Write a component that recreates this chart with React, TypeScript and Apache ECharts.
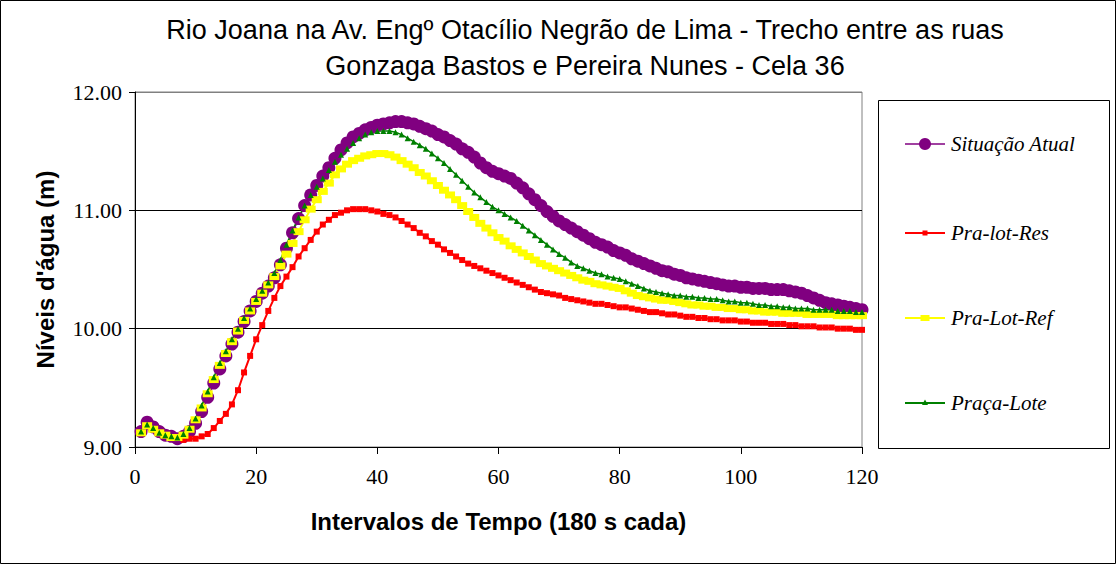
import React, { useEffect, useRef } from "react";
import * as echarts from "echarts";

// Water levels (m) for time steps 1..120 (180 s each)
const situacaoAtual = [
  9.13, 9.21, 9.17, 9.13, 9.10, 9.09, 9.07, 9.09, 9.13, 9.20,
  9.30, 9.42, 9.54, 9.66, 9.77, 9.87, 9.97, 10.06, 10.15, 10.23,
  10.30, 10.36, 10.43, 10.54, 10.68, 10.81, 10.93, 11.04, 11.13, 11.21,
  11.29, 11.36, 11.44, 11.51, 11.57, 11.62, 11.65, 11.68, 11.70, 11.72,
  11.73, 11.74, 11.75, 11.75, 11.74, 11.73, 11.71, 11.69, 11.67, 11.64,
  11.62, 11.59, 11.56, 11.52, 11.49, 11.45, 11.40, 11.36, 11.33, 11.31,
  11.29, 11.27, 11.23, 11.19, 11.14, 11.09, 11.04, 10.99, 10.95, 10.91,
  10.88, 10.85, 10.82, 10.79, 10.76, 10.73, 10.71, 10.69, 10.66, 10.64,
  10.62, 10.59, 10.57, 10.55, 10.53, 10.51, 10.49, 10.48, 10.46, 10.45,
  10.43, 10.42, 10.41, 10.40, 10.39, 10.38, 10.37, 10.36, 10.36, 10.35,
  10.35, 10.34, 10.34, 10.34, 10.33, 10.33, 10.33, 10.32, 10.31, 10.30,
  10.28, 10.26, 10.24, 10.22, 10.21, 10.20, 10.19, 10.18, 10.17, 10.16,
];

const praLotRes = [
  9.12, 9.18, 9.15, 9.12, 9.10, 9.08, 9.08, 9.06, 9.07, 9.07,
  9.09, 9.11, 9.16, 9.22, 9.28, 9.36, 9.48, 9.63, 9.77, 9.91,
  10.03, 10.15, 10.26, 10.36, 10.44, 10.52, 10.61, 10.68, 10.75, 10.82,
  10.88, 10.92, 10.96, 10.98, 11.00, 11.01, 11.01, 11.01, 11.00, 10.99,
  10.97, 10.96, 10.94, 10.91, 10.88, 10.85, 10.81, 10.78, 10.74, 10.71,
  10.67, 10.64, 10.61, 10.58, 10.55, 10.53, 10.51, 10.49, 10.47, 10.45,
  10.43, 10.41, 10.39, 10.37, 10.35, 10.33, 10.31, 10.30, 10.29, 10.28,
  10.26, 10.25, 10.24, 10.23, 10.22, 10.21, 10.21, 10.20, 10.19, 10.18,
  10.18, 10.17, 10.16, 10.15, 10.14, 10.14, 10.13, 10.12, 10.12, 10.11,
  10.10, 10.10, 10.09, 10.09, 10.08, 10.08, 10.07, 10.07, 10.07, 10.06,
  10.06, 10.05, 10.05, 10.05, 10.04, 10.04, 10.04, 10.03, 10.03, 10.02,
  10.02, 10.02, 10.01, 10.01, 10.01, 10.00, 10.00, 10.00, 9.99, 9.99,
];

const praLotRef = [
  9.12, 9.18, 9.15, 9.12, 9.10, 9.08, 9.08, 9.10, 9.15, 9.23,
  9.33, 9.45, 9.57, 9.69, 9.79, 9.89, 9.98, 10.07, 10.15, 10.23,
  10.30, 10.37, 10.44, 10.53, 10.63, 10.72, 10.82, 10.92, 11.01, 11.09,
  11.16, 11.23, 11.30, 11.35, 11.39, 11.42, 11.44, 11.46, 11.47, 11.48,
  11.48, 11.47, 11.45, 11.42, 11.39, 11.36, 11.32, 11.29, 11.25, 11.21,
  11.17, 11.13, 11.09, 11.04, 10.99, 10.94, 10.89, 10.85, 10.81, 10.77,
  10.74, 10.70, 10.67, 10.64, 10.61, 10.58, 10.55, 10.53, 10.51, 10.49,
  10.47, 10.45, 10.43, 10.41, 10.40, 10.38, 10.37, 10.36, 10.35, 10.34,
  10.32, 10.30, 10.28, 10.27, 10.26, 10.25, 10.24, 10.24, 10.23, 10.22,
  10.21, 10.20, 10.20, 10.19, 10.19, 10.18, 10.18, 10.17, 10.17, 10.16,
  10.16, 10.15, 10.15, 10.14, 10.14, 10.14, 10.13, 10.13, 10.13, 10.13,
  10.12, 10.12, 10.12, 10.12, 10.12, 10.11, 10.11, 10.11, 10.11, 10.11,
];

const pracaLote = [
  9.13, 9.19, 9.16, 9.12, 9.10, 9.09, 9.08, 9.11, 9.16, 9.24,
  9.35, 9.47, 9.59, 9.71, 9.81, 9.91, 10.00, 10.09, 10.17, 10.25,
  10.32, 10.39, 10.47, 10.58, 10.71, 10.83, 10.94, 11.04, 11.13, 11.20,
  11.27, 11.34, 11.41, 11.47, 11.52, 11.57, 11.61, 11.64, 11.66, 11.67,
  11.67, 11.67, 11.66, 11.64, 11.61, 11.58, 11.55, 11.52, 11.48, 11.44,
  11.40, 11.35, 11.30, 11.25, 11.20, 11.15, 11.11, 11.07, 11.03, 11.00,
  10.97, 10.94, 10.91, 10.87, 10.83, 10.79, 10.75, 10.71, 10.67, 10.63,
  10.60, 10.56, 10.53, 10.51, 10.49, 10.47, 10.46, 10.44, 10.43, 10.42,
  10.40, 10.38, 10.36, 10.34, 10.32, 10.31, 10.30, 10.29, 10.28, 10.28,
  10.27, 10.27, 10.26, 10.26, 10.25, 10.25, 10.24, 10.23, 10.23, 10.22,
  10.22, 10.21, 10.20, 10.20, 10.19, 10.19, 10.18, 10.18, 10.17, 10.17,
  10.17, 10.16, 10.16, 10.16, 10.16, 10.15, 10.15, 10.15, 10.14, 10.14,
];

const seriesNames = ["Situação Atual", "Pra-lot-Res", "Pra-Lot-Ref", "Praça-Lote"];
const seriesColors = ["#800080", "#ff0000", "#ffff00", "#008000"];
const titleLines = [
  "Rio Joana na Av. Engº Otacílio Negrão de Lima - Trecho entre as ruas",
  "Gonzaga Bastos e Pereira Nunes - Cela 36",
];
const xAxisTitle = "Intervalos de Tempo (180 s cada)";
const yAxisTitle = "Níveis d'água (m)";

const toPairs = (values: number[]) => values.map((v, i) => [i + 1, v]);

const SERIF = "Liberation Serif";
const SANS = "Liberation Sans";

// Legend drawn as a boxed panel on the right: a short line with the
// series marker in the middle, followed by the italic series name.
function legendGraphics() {
  const boxX = 878.5;
  const boxY = 100.5;
  const rowY = [144, 233, 318, 403];
  const lineX0 = 905;
  const lineX1 = 945;
  const cx = (lineX0 + lineX1) / 2;
  const items: any[] = [
    {
      type: "rect",
      shape: { x: boxX, y: boxY, width: 231, height: 348 },
      style: { fill: "#fff", stroke: "#000", lineWidth: 1 },
      silent: true,
    },
  ];
  seriesNames.forEach((name, k) => {
    const y = rowY[k];
    const color = seriesColors[k];
    items.push({
      type: "line",
      shape: { x1: lineX0, y1: y, x2: lineX1, y2: y },
      style: { stroke: color, lineWidth: k === 0 ? 1.5 : 2 },
      silent: true,
    });
    if (k === 0) {
      items.push({ type: "circle", shape: { cx, cy: y, r: 6 }, style: { fill: color }, silent: true });
    } else if (k === 1) {
      items.push({ type: "rect", shape: { x: cx - 2.5, y: y - 2.5, width: 5, height: 5 }, style: { fill: color }, silent: true });
    } else if (k === 2) {
      items.push({ type: "rect", shape: { x: cx - 4.5, y: y - 3, width: 9, height: 6 }, style: { fill: color }, silent: true });
    } else {
      items.push({
        type: "polygon",
        shape: { points: [[cx, y - 3.5], [cx - 3, y + 2], [cx + 3, y + 2]] },
        style: { fill: color },
        silent: true,
      });
    }
    items.push({
      type: "text",
      x: 951,
      y,
      style: {
        text: name,
        fontFamily: SERIF,
        fontStyle: "italic",
        fontSize: 21,
        fill: "#000",
        verticalAlign: "middle",
        align: "left",
      },
      silent: true,
    });
  });
  return items;
}

export default function App() {
  const ref = useRef<HTMLDivElement>(null);

  useEffect(() => {
    document.body.style.margin = "0";
    if (!ref.current) return;
    const chart = echarts.init(ref.current, undefined, { renderer: "svg" });

    const markers: [string, any][] = [
      ["circle", 13],
      ["rect", 6],
      ["rect", [10, 7]],
      ["triangle", 6],
    ];
    const datasets = [situacaoAtual, praLotRes, praLotRef, pracaLote];

    chart.setOption({
      animation: false,
      backgroundColor: "#ffffff",
      textStyle: { fontFamily: SERIF },
      title: {
        text: titleLines.join("\n"),
        left: 580,
        top: 7,
        textAlign: "center",
        textStyle: {
          fontFamily: SANS,
          fontSize: 27,
          fontWeight: "normal",
          color: "#000",
          lineHeight: 36,
        },
      },
      grid: {
        left: 135,
        right: 255,
        top: 92,
        bottom: 118,
        show: true,
        borderColor: "#808080",
        borderWidth: 1,
      },
      xAxis: {
        type: "value",
        min: 0,
        max: 120,
        interval: 20,
        name: xAxisTitle,
        nameLocation: "middle",
        nameGap: 62,
        nameTextStyle: { fontFamily: SANS, fontSize: 24, fontWeight: "bold", color: "#000" },
        axisLine: { show: true, lineStyle: { color: "#000", width: 1 } },
        axisTick: { show: true, length: 7, lineStyle: { color: "#000" } },
        axisLabel: { fontFamily: SERIF, fontSize: 22, color: "#000", margin: 18 },
        splitLine: { show: false },
      },
      yAxis: {
        type: "value",
        min: 9,
        max: 12,
        interval: 1,
        name: yAxisTitle,
        nameLocation: "middle",
        nameGap: 78,
        nameTextStyle: { fontFamily: SANS, fontSize: 24, fontWeight: "bold", color: "#000" },
        axisLine: { show: true, lineStyle: { color: "#000", width: 1 } },
        axisTick: { show: true, length: 6, lineStyle: { color: "#000" } },
        axisLabel: {
          fontFamily: SERIF,
          fontSize: 22,
          color: "#000",
          margin: 13,
          formatter: (v: number) => v.toFixed(2),
        },
        splitLine: {
          show: true,
          lineStyle: { color: ["#808080", "#000", "#000", "#808080"], width: 1 },
        },
      },
      series: seriesNames.map((name, k) => ({
        name,
        type: "line",
        data: toPairs(datasets[k]),
        symbol: markers[k][0],
        symbolSize: markers[k][1],
        itemStyle: { color: seriesColors[k] },
        lineStyle: { color: seriesColors[k], width: k === 0 || k === 3 ? 1.5 : 2 },
      })),
      graphic: [
        {
          type: "rect",
          shape: { x: 0.5, y: 0.5, width: 1115, height: 563 },
          style: { fill: "none", stroke: "#000", lineWidth: 1 },
          silent: true,
        },
        ...legendGraphics(),
      ],
    });

    return () => chart.dispose();
  }, []);

  return <div ref={ref} style={{ width: 1117, height: 565 }} />;
}
